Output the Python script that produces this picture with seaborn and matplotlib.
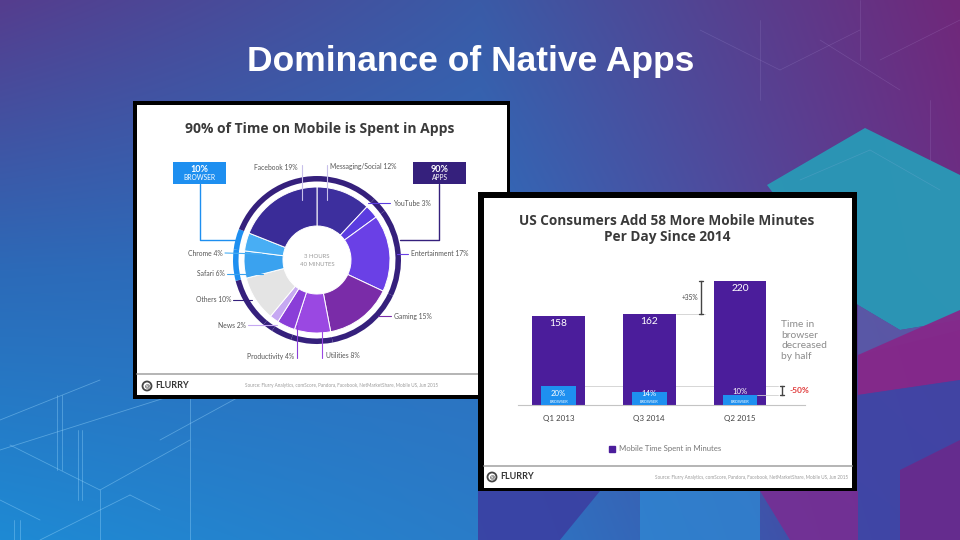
import numpy as np
import pandas as pd
import matplotlib
matplotlib.use("Agg")
import matplotlib.pyplot as plt
import seaborn as sns
from matplotlib.patches import Rectangle, Polygon, Circle, Patch
from matplotlib.lines import Line2D

sns.set_theme(style="white")
plt.rcParams['font.family'] = ['Lato', 'DejaVu Sans']

# ---------------- data ----------------
slide_title = "Dominance of Native Apps"

pie_title = "90% of Time on Mobile is Spent in Apps"
pie_categories = ["Messaging/Social", "YouTube", "Entertainment", "Gaming", "Utilities",
                  "Productivity", "News", "Others", "Safari", "Chrome", "Facebook"]
pie_shares = [12, 3, 17, 15, 8, 4, 2, 10, 6, 4, 19]
pie_groups = ["apps", "apps", "apps", "apps", "apps", "apps", "apps", "apps",
              "browser", "browser", "apps"]
pie_center_text = ["3 HOURS", "40 MINUTES"]
group_boxes = [("10%", "BROWSER"), ("90%", "APPS")]

bar_title = ["US Consumers Add 58 More Mobile Minutes", "Per Day Since 2014"]
quarters = ["Q1 2013", "Q3 2014", "Q2 2015"]
minutes = [158, 162, 220]
browser_pct = [20, 14, 10]
growth_label = "+35%"
browser_change_label = "-50%"
browser_note = "Time in\nbrowser\ndecreased\nby half"
legend_label = "Mobile Time Spent in Minutes"
source_text = "Source: Flurry Analytics, comScore, Pandora, Facebook, NetMarketShare, Mobile US, Jun 2015"

# ---------------- styles ----------------
pie_colors = {"Messaging/Social": "#3d2f9e", "YouTube": "#5b3ce0", "Entertainment": "#6a40e6",
              "Gaming": "#7a2ca8", "Utilities": "#9a48e2", "Productivity": "#8a3ed8",
              "News": "#c6a8f2", "Others": "#e4e4e4", "Safari": "#3aa2ef",
              "Chrome": "#48aef4", "Facebook": "#3a2c98"}
ring_colors = {"apps": "#35207c", "browser": "#1e8ff0"}
BAR_PURPLE = "#4b1d9b"
BAR_BLUE = "#1e90f0"
TITLE_FONT = ['Open Sans', 'DejaVu Sans']

fig = plt.figure(figsize=(9.6, 5.4), dpi=100)


def full_axes(z):
    a = fig.add_axes([0, 0, 1, 1], zorder=z)
    a.set_xlim(0, 960)
    a.set_ylim(540, 0)
    a.axis('off')
    return a


# ---------------- background ----------------
ax_bg = full_axes(0)
ctrl = np.array([
    [[0x55, 0x3d, 0x8e], [0x3a, 0x5b, 0xa7], [0x70, 0x28, 0x7a]],
    [[0x2c, 0x6a, 0xb8], [0x2e, 0x6e, 0xbd], [0x6a, 0x30, 0x88]],
    [[0x1e, 0x8a, 0xd4], [0x2a, 0x7c, 0xc8], [0x4a, 0x3a, 0x98]]]) / 255
H, W = 270, 480
ys = np.linspace(0, 2, H)
xs = np.linspace(0, 2, W)
rows = np.stack([np.stack([np.interp(xs, [0, 1, 2], ctrl[r, :, c]) for c in range(3)], axis=-1)
                 for r in range(3)])  # (3, W, 3)
grad = np.stack([np.stack([np.interp(ys, [0, 1, 2], rows[:, j, c]) for c in range(3)], axis=-1)
                 for j in range(W)], axis=1)  # (H, W, 3)
ax_bg.imshow(grad, extent=(0, 960, 540, 0), interpolation='bilinear', aspect='auto', zorder=0)
ax_bg.set_xlim(0, 960)
ax_bg.set_ylim(540, 0)

# decorative geometric shapes
deco_polys = [
    ([(767, 185), (865, 128), (960, 175), (960, 320), (900, 330), (858, 305)], "#2a98b6", 0.97),
    ([(858, 305), (900, 330), (960, 320), (960, 330), (858, 355)], "#5a5aa8", 0.9),
    ([(858, 355), (960, 310), (960, 380), (858, 395)], "#86288a", 0.95),
    ([(858, 395), (960, 380), (960, 540), (858, 540)], "#3f46a6", 0.9),
    ([(900, 470), (960, 440), (960, 540), (900, 540)], "#6a2a8c", 0.9),
    ([(478, 491), (600, 491), (560, 540), (478, 540)], "#3b3fa2", 0.9),
    ([(640, 491), (760, 491), (760, 540), (640, 540)], "#2f86d2", 0.8),
    ([(760, 491), (858, 491), (858, 540), (790, 540)], "#7a2c92", 0.85),
]
for pts, col, al in deco_polys:
    ax_bg.add_patch(Polygon(pts, closed=True, fc=col, ec='none', alpha=al, zorder=1))

deco_lines_low = [
    ((0, 420), (100, 380)), ((0, 450), (190, 390)), ((10, 445), (100, 490)), ((100, 490), (190, 440)),
    ((100, 490), (100, 540)), ((190, 390), (190, 540)), ((40, 540), (130, 495)), ((130, 495), (160, 510)),
    ((57, 395), (57, 470)), ((62, 395), (62, 470)), ((78, 430), (78, 500)), ((82, 430), (82, 500)),
    ((160, 440), (270, 380)), ((0, 500), (40, 520)), ((14, 520), (14, 540)), ((20, 520), (20, 540)),
]
for (x0, y0), (x1, y1) in deco_lines_low:
    ax_bg.plot([x0, x1], [y0, y1], color="#9fdcff", lw=0.6, alpha=0.4, zorder=2)
deco_lines_high = [
    ((880, 60), (960, 20)), ((820, 40), (900, 90)), ((760, 20), (760, 100)), ((860, 0), (860, 60)),
    ((700, 30), (780, 70)), ((930, 100), (930, 160)), ((780, 70), (860, 30)),
    ((870, 150), (940, 190)), ((800, 180), (870, 150)),
]
for (x0, y0), (x1, y1) in deco_lines_high:
    ax_bg.plot([x0, x1], [y0, y1], color="#d8c8ff", lw=0.5, alpha=0.15, zorder=2)

ax_bg.text(471, 62, slide_title, ha='center', va='center', color='white', fontsize=25.5,
           fontweight='bold', family=['Liberation Sans', 'DejaVu Sans'], zorder=3)

# ---------------- left panel frame ----------------
ax_bg.add_patch(Rectangle((133, 101), 377, 298, fc='black', ec='none', zorder=4))
ax_bg.add_patch(Rectangle((137, 105), 370, 290, fc='white', ec='none', zorder=5))
ax_bg.text(320, 129, pie_title, ha='center', va='center', fontsize=10, fontweight='bold',
           color='#3a3a3a', family=TITLE_FONT, zorder=6)
ax_bg.plot([137, 507], [374, 374], color='#a8a8a8', lw=1.2, zorder=6)
ax_bg.add_patch(Circle((147, 386), 4.5, fc='none', ec='#444', lw=1.3, zorder=6))
ax_bg.text(147, 386.3, "@", ha='center', va='center', fontsize=4.5, color='#444', fontweight='bold', zorder=6)
ax_bg.text(155, 385.5, "FLURRY", ha='left', va='center', fontsize=6.5, color='#333', fontweight='bold', zorder=6)
ax_bg.text(245, 386, source_text, ha='left', va='center', fontsize=3.3, color='#9a9a9a', zorder=6)

# ---------------- donut ----------------
cx, cy, half = 317, 260, 90
ax_pie = fig.add_axes([(cx - half) / 960, 1 - (cy + half) / 540, 2 * half / 960, 2 * half / 540], zorder=1)
ax_pie.pie(pie_shares, colors=[pie_colors[c] for c in pie_categories], radius=73 / half,
           startangle=90, counterclock=False,
           wedgeprops=dict(width=39 / half, edgecolor='white', linewidth=0.7))
ax_pie.pie(pie_shares, colors=[ring_colors[g] for g in pie_groups], radius=84 / half,
           startangle=90, counterclock=False,
           wedgeprops=dict(width=5.5 / half, edgecolor='none', linewidth=0))
ax_pie.set_xlim(-1, 1)
ax_pie.set_ylim(-1, 1)
ax_pie.set_aspect('equal')
ax_pie.axis('off')

# ---------------- left overlay (labels, leaders, boxes) ----------------
ax_lo = full_axes(2)
label_layout = {
    "Facebook":         (298, 167, 'right', [(302, 165), (302, 200)], "#c8c0ea"),
    "Messaging/Social": (330, 167, 'left',  [(327, 165), (327, 200)], "#c8c0ea"),
    "YouTube":          (393, 203, 'left',  [(368, 203), (390, 203)], "#5b3ce0"),
    "Entertainment":    (411, 254, 'left',  [(397, 254), (408, 254)], "#6a40e6"),
    "Gaming":           (394, 316, 'left',  [(378, 316), (391, 316)], "#7a2ca8"),
    "Utilities":        (326, 356, 'left',  [(322, 328), (322, 358)], "#9a48e2"),
    "Productivity":     (294, 356, 'right', [(297, 325), (297, 358)], "#8a3ed8"),
    "News":             (246, 325, 'right', [(248, 325), (277, 325)], "#c6a8f2"),
    "Others":           (231, 300, 'right', [(233, 300), (252, 300)], "#35207c"),
    "Safari":           (225, 274, 'right', [(227, 274), (263, 274)], "#3aa2ef"),
    "Chrome":           (223, 253, 'right', [(225, 253), (262, 254)], "#48aef4"),
}
for cat, share in zip(pie_categories, pie_shares):
    tx, ty, ha, pts, lc = label_layout[cat]
    (x0, y0), (x1, y1) = pts
    ax_lo.plot([x0, x1], [y0, y1], color=lc, lw=0.8)
    ax_lo.text(tx, ty, f"{cat} {share}%", ha=ha, va='center', fontsize=4.9, color='#555')

ax_lo.text(cx, cy - 4, pie_center_text[0], ha='center', va='center', fontsize=4.3, color='#9a9a9a')
ax_lo.text(cx, cy + 4.5, pie_center_text[1], ha='center', va='center', fontsize=4.3, color='#9a9a9a')

box_layout = [((173, 162), "#1e8ff0", [(200, 184), (200, 240), (236, 240)]),
              ((413, 162), "#35207c", [(439, 184), (439, 240), (400, 240)])]
for (big, small), ((bx, by), col, path) in zip(group_boxes, box_layout):
    ax_lo.add_patch(Rectangle((bx, by), 53, 22, fc=col, ec='none'))
    ax_lo.text(bx + 26.5, by + 7.5, big, ha='center', va='center', fontsize=6.5, color='white', fontweight='bold')
    ax_lo.text(bx + 26.5, by + 16, small, ha='center', va='center', fontsize=4.8, color='white')
    ax_lo.plot([p[0] for p in path], [p[1] for p in path], color=col, lw=1.0)

# ---------------- right panel frame ----------------
ax_rbg = full_axes(3)
ax_rbg.add_patch(Rectangle((478, 192), 379, 299, fc='black', ec='none'))
ax_rbg.add_patch(Rectangle((484, 198), 368, 290, fc='white', ec='none'))
ax_rbg.text(667, 221, bar_title[0], ha='center', va='center', fontsize=9.8, fontweight='bold',
            color='#3a3a3a', family=TITLE_FONT)
ax_rbg.text(667, 236.5, bar_title[1], ha='center', va='center', fontsize=9.8, fontweight='bold',
            color='#3a3a3a', family=TITLE_FONT)
ax_rbg.text(781, 320, browser_note, ha='left', va='top', fontsize=7.4, color='#8c8c8c', linespacing=1.25)
ax_rbg.plot([484, 852], [466, 466], color='#a8a8a8', lw=1.2)
ax_rbg.add_patch(Circle((492, 477), 4.5, fc='none', ec='#444', lw=1.3))
ax_rbg.text(492, 477.3, "@", ha='center', va='center', fontsize=4.5, color='#444', fontweight='bold')
ax_rbg.text(500, 476.5, "FLURRY", ha='left', va='center', fontsize=6.5, color='#333', fontweight='bold')
ax_rbg.text(848, 477, source_text, ha='right', va='center', fontsize=3.3, color='#9a9a9a')

# ---------------- bar chart ----------------
df = pd.DataFrame({"quarter": quarters, "minutes": minutes, "browser": browser_pct})
ax_bar = fig.add_axes([518 / 960, 1 - 405 / 540, 287 / 960, 135 / 540], zorder=4)
ax_bar.patch.set_alpha(0)
sns.barplot(data=df, x="quarter", y="minutes", ax=ax_bar, color=BAR_PURPLE, width=0.58,
            saturation=1, order=quarters, linewidth=0)
ax_b = ax_bar.twinx()
ax_b.set_zorder(4.5)
sns.barplot(data=df, x="quarter", y="browser", ax=ax_b, color=BAR_BLUE, width=0.385,
            saturation=1, order=quarters, linewidth=0)

XL = (-0.446, 2.716)
ax_bar.set_xlim(*XL)
ax_b.set_xlim(*XL)
ax_bar.set_ylim(0, 239.5)
ax_b.set_ylim(0, 142.1)
for a in (ax_bar, ax_b):
    a.set_xlabel("")
    a.set_ylabel("")
    a.set_yticks([])
    for s in ("top", "right", "left", "bottom"):
        a.spines[s].set_visible(False)
ax_bar.spines["bottom"].set_visible(True)
ax_bar.spines["bottom"].set_color("#c4c4c4")
ax_bar.spines["bottom"].set_linewidth(0.8)
ax_bar.tick_params(axis='x', length=0, pad=7, labelsize=5.8, labelcolor='#444')

# value labels
for i, v in enumerate(minutes):
    ax_bar.annotate(str(v), (i, v), xytext=(0, -8 * 0.72), textcoords='offset points',
                    ha='center', va='center', color='white', fontsize=7.4)
for i, p in enumerate(browser_pct):
    bar_px = p * 0.95
    off = 11 if bar_px >= 12 else bar_px + 3.5
    ax_b.annotate(f"{p}%", (i, 0), xytext=(0, off * 0.72), textcoords='offset points',
                  ha='center', va='center', color='white', fontsize=5.6)
    ax_b.annotate("BROWSER", (i, 0), xytext=(0, 3 * 0.72), textcoords='offset points',
                  ha='center', va='center', color='white', fontsize=2.8)

# growth bracket (+35%)
bx1 = 1.57
ax_bar.plot([1 + 0.29, bx1 + 0.04], [minutes[1], minutes[1]], color='#d0d0d0', lw=0.6, zorder=0.5)
ax_bar.plot([bx1, bx1], [minutes[1], minutes[2]], color='#444', lw=1.0, zorder=3)
for yv in (minutes[1], minutes[2]):
    ax_bar.plot([bx1 - 0.02, bx1 + 0.02], [yv, yv], color='#444', lw=1.0, zorder=3)
ax_bar.text(bx1 - 0.025, (minutes[1] + minutes[2]) / 2, growth_label, ha='right', va='center',
            fontsize=4.8, color='#444')

# browser bracket (-50%)
bx2 = 2.46
ax_bar.add_line(Line2D([0 + 0.1925, bx2 - 0.04], [browser_pct[0], browser_pct[0]], transform=ax_b.transData,
                       color='#d0d0d0', lw=0.6, zorder=0.5))
ax_b.plot([2 + 0.1925, bx2 - 0.04], [browser_pct[2], browser_pct[2]], color='#d0d0d0', lw=0.6, zorder=0.5)
ax_b.plot([bx2, bx2], [browser_pct[2], browser_pct[0]], color='#444', lw=1.0)
for yv in (browser_pct[2], browser_pct[0]):
    ax_b.plot([bx2 - 0.02, bx2 + 0.02], [yv, yv], color='#444', lw=1.0)
ax_b.text(bx2 + 0.08, (browser_pct[0] + browser_pct[2]) / 2, browser_change_label, ha='left', va='center',
          fontsize=6, color='#e03a3a', fontweight='bold')

# legend
ax_b.legend(handles=[Patch(color=BAR_PURPLE, label=legend_label)], loc='center',
            bbox_to_anchor=(665 / 960, 1 - 449 / 540), bbox_transform=fig.transFigure,
            frameon=False, fontsize=5.6, labelcolor='#777', handlelength=0.8, handleheight=0.9,
            handletextpad=0.5)

fig.savefig("out.png", dpi=100)
